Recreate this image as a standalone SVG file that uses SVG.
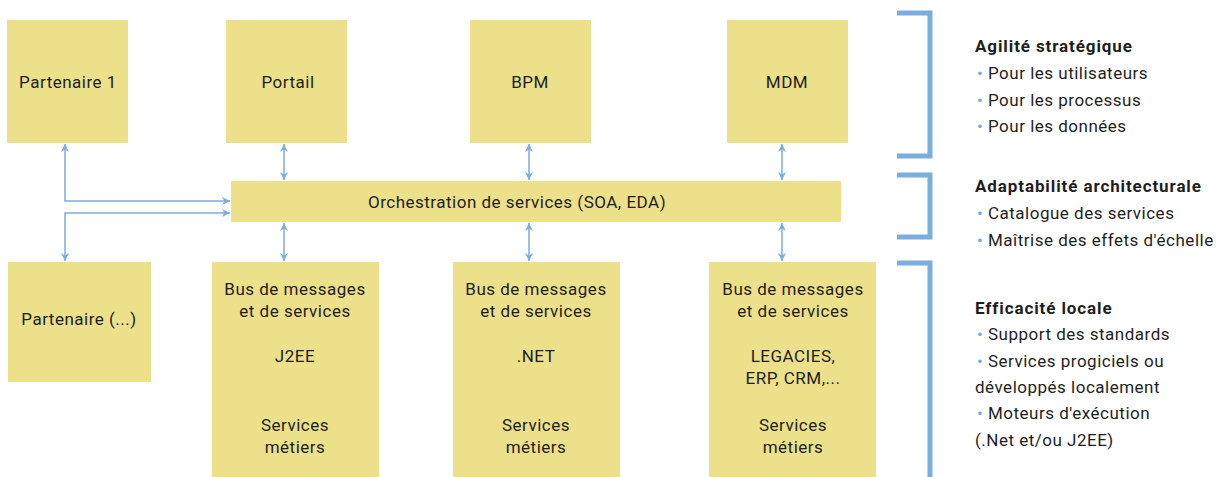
<svg xmlns="http://www.w3.org/2000/svg" width="1227" height="477" viewBox="0 0 1227 477">
<style>
.box{fill:#ede08a}
.t{font-family:Roboto,"Liberation Sans",sans-serif;font-size:17px;letter-spacing:0.5px;fill:#1e1e1e;text-anchor:middle}
.r{font-family:Roboto,"Liberation Sans",sans-serif;font-size:17px;letter-spacing:0.5px;fill:#1e1e1e}
.b{font-weight:bold;letter-spacing:0.9px}
.bl{fill:#6fa8dc}
.c{fill:none;stroke:#7aaedc;stroke-width:1.5}
.br{fill:none;stroke:#7aaedc;stroke-width:5}
</style>
<defs>
<marker id="ah" viewBox="0 0 10 10" refX="10" refY="5" markerWidth="8" markerHeight="8" markerUnits="userSpaceOnUse" orient="auto-start-reverse">
<path d="M0,0 L10,5 L0,10 L3,5 z" fill="#7aaedc"/>
</marker>
</defs>
<rect width="1227" height="477" fill="#ffffff"/>
<g id="partenaire1"><rect class="box" x="7" y="20" width="121" height="123"/><text class="t" x="68" y="88">Partenaire 1</text></g>
<g id="portail"><rect class="box" x="226" y="20" width="121" height="123"/><text class="t" x="288" y="88">Portail</text></g>
<g id="bpm"><rect class="box" x="470" y="20" width="121" height="123"/><text class="t" x="530" y="88">BPM</text></g>
<g id="mdm"><rect class="box" x="727" y="20" width="121" height="123"/><text class="t" x="787" y="88">MDM</text></g>
<g id="orchestration"><rect class="box" x="231" y="181" width="610" height="41"/><text class="t" x="517" y="208">Orchestration de services (SOA, EDA)</text></g>
<g id="partenaireN"><rect class="box" x="8" y="262" width="143" height="120"/><text class="t" x="79" y="325">Partenaire (...)</text></g>
<g id="busJ2EE"><rect class="box" x="212" y="262" width="167" height="215"/>
<text class="t" x="295" y="295">Bus de messages</text><text class="t" x="295" y="317">et de services</text>
<text class="t" x="295" y="362">J2EE</text>
<text class="t" x="295" y="431">Services</text><text class="t" x="295" y="453">métiers</text></g>
<g id="busNET"><rect class="box" x="453" y="262" width="167" height="215"/>
<text class="t" x="536" y="295">Bus de messages</text><text class="t" x="536" y="317">et de services</text>
<text class="t" x="536" y="362">.NET</text>
<text class="t" x="536" y="431">Services</text><text class="t" x="536" y="453">métiers</text></g>
<g id="busLegacies"><rect class="box" x="709" y="262" width="167" height="215"/>
<text class="t" x="793" y="295">Bus de messages</text><text class="t" x="793" y="317">et de services</text>
<text class="t" x="793" y="362">LEGACIES,</text><text class="t" x="793" y="384">ERP, CRM,...</text>
<text class="t" x="793" y="431">Services</text><text class="t" x="793" y="453">métiers</text></g>
<g id="connectors">
<path class="c" d="M65,144 V201 H230" marker-start="url(#ah)" marker-end="url(#ah)"/>
<path class="c" d="M230,213 H65 V261" marker-start="url(#ah)" marker-end="url(#ah)"/>
<path class="c" d="M284,144 V180" marker-start="url(#ah)" marker-end="url(#ah)"/>
<path class="c" d="M529,144 V180" marker-start="url(#ah)" marker-end="url(#ah)"/>
<path class="c" d="M782,144 V180" marker-start="url(#ah)" marker-end="url(#ah)"/>
<path class="c" d="M284,223 V261" marker-start="url(#ah)" marker-end="url(#ah)"/>
<path class="c" d="M529,223 V261" marker-start="url(#ah)" marker-end="url(#ah)"/>
<path class="c" d="M782,223 V261" marker-start="url(#ah)" marker-end="url(#ah)"/>
</g>
<g id="brackets">
<path class="br" d="M897,13 H930 V156 H897"/>
<path class="br" d="M897,175 H930 V237 H897"/>
<path class="br" d="M897,263 H930 V477"/>
</g>
<g id="legend1">
<text class="r b" x="975" y="52">Agilité stratégique</text>
<text class="r" x="977" y="79"><tspan class="bl">•</tspan> Pour les utilisateurs</text>
<text class="r" x="977" y="106"><tspan class="bl">•</tspan> Pour les processus</text>
<text class="r" x="977" y="132"><tspan class="bl">•</tspan> Pour les données</text>
</g>
<g id="legend2">
<text class="r b" x="975" y="192">Adaptabilité architecturale</text>
<text class="r" x="977" y="219"><tspan class="bl">•</tspan> Catalogue des services</text>
<text class="r" x="977" y="246"><tspan class="bl">•</tspan> Maîtrise des effets d'échelle</text>
</g>
<g id="legend3">
<text class="r b" x="975" y="314">Efficacité locale</text>
<text class="r" x="977" y="340"><tspan class="bl">•</tspan> Support des standards</text>
<text class="r" x="977" y="367"><tspan class="bl">•</tspan> Services progiciels ou</text>
<text class="r" x="975" y="393">développés localement</text>
<text class="r" x="977" y="419"><tspan class="bl">•</tspan> Moteurs d'exécution</text>
<text class="r" x="975" y="446">(.Net et/ou J2EE)</text>
</g>
</svg>
